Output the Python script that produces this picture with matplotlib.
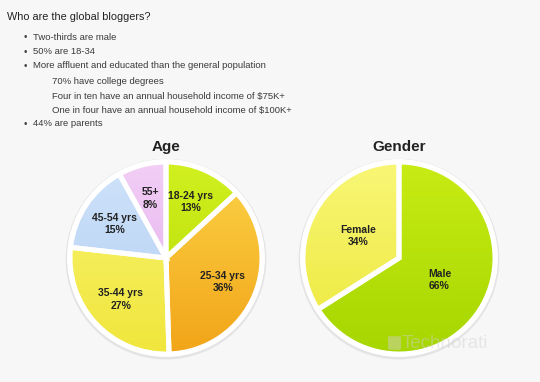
import matplotlib
matplotlib.use("Agg")
import matplotlib.pyplot as plt
import numpy as np
from matplotlib.colors import to_rgb
from matplotlib.patches import Circle, FancyBboxPatch

plt.rcParams['font.family'] = ['Liberation Sans', 'DejaVu Sans']

# ---- data ----
title = "Who are the global bloggers?"
bullets = ["Two-thirds are male", "50% are 18-34",
           "More affluent and educated than the general population",
           "44% are parents"]
sub_items = ["70% have college degrees",
             "Four in ten have an annual household income of $75K+",
             "One in four have an annual household income of $100K+"]

age_labels = ["18-24 yrs", "25-34 yrs", "35-44 yrs", "45-54 yrs", "55+"]
age_values = [13, 36, 27, 15, 8]
age_top = ["#d2f020", "#fcd448", "#f9f472", "#cfe2fa", "#f2cff6"]
age_bot = ["#b2da00", "#f2a418", "#f0e63c", "#b0cff2", "#e0a8ea"]

gender_labels = ["Male", "Female"]
gender_values = [66, 34]
gender_top = ["#c8ec14", "#f9f676"]
gender_bot = ["#a6d600", "#ebe83a"]

W, H = 540, 382
fig = plt.figure(figsize=(W / 100, H / 100), dpi=100)
fig.patch.set_facecolor("#f7f7f7")

def px(x, y):
    return x / W, 1 - y / H

# ---- text block ----
fig.text(*px(7, 17), title, fontsize=7.8, color="#222222", va="center", ha="left")
rows = [(25, 33, 37, bullets[0], True), (25, 33, 52, bullets[1], True),
        (25, 33, 66, bullets[2], True), (None, 52, 81, sub_items[0], False),
        (None, 52, 96, sub_items[1], False), (None, 52, 110, sub_items[2], False),
        (25, 33, 124, bullets[3], True)]
for bx, tx, y, txt, has_bullet in rows:
    if has_bullet:
        fig.text(*px(bx, y), "\u2022", fontsize=7, color="#444444", va="center", ha="center")
    fig.text(*px(tx, y), txt, fontsize=6.8, color="#3a3a3a", va="center", ha="left")


def draw_pie(cx, cy, r, values, labels, tops, bots, title_txt, title_y, ldist):
    ax = fig.add_axes([(cx - r * 1.1) / W, 1 - (cy + r * 1.1) / H,
                       2.2 * r / W, 2.2 * r / H])
    ax.set_xlim(-1.1, 1.1)
    ax.set_ylim(-1.1, 1.1)
    ax.set_aspect("equal")
    ax.axis("off")
    ax.add_patch(Circle((0.0, -0.012), 1.045, facecolor="#e4e4e4", edgecolor="none", zorder=0))
    ax.add_patch(Circle((0, 0), 1.03, facecolor="white", edgecolor="none", zorder=0.5))
    txts = [f"{l}\n{v}%" for l, v in zip(labels, values)]
    wedges, texts = ax.pie(values, labels=txts, startangle=90, counterclock=False,
                           labeldistance=ldist, radius=1.0,
                           wedgeprops=dict(edgecolor="white", linewidth=3.6),
                           textprops=dict(fontsize=7.5, fontweight="bold", color="#222222",
                                          linespacing=1.3))
    yy = np.linspace(1, 0, 200)[:, None]
    for w, t, b in zip(wedges, tops, bots):
        c1, c2 = np.array(to_rgb(t)), np.array(to_rgb(b))
        img = c1[None, None, :] * yy[..., None] + c2[None, None, :] * (1 - yy[..., None])
        img = np.repeat(img, 2, axis=1)
        im = ax.imshow(img, extent=[-1, 1, -1, 1], origin="upper", zorder=1.5,
                       interpolation="bilinear")
        im.set_clip_path(w)
        w.set_facecolor("none")
        w.set_zorder(2)
    for t in texts:
        t.set_zorder(3)
        t.set_ha("center")
        t.set_va("center")
    ax.set_xlim(-1.1, 1.1)
    ax.set_ylim(-1.1, 1.1)
    fig.text(*px(cx, title_y), title_txt, fontsize=11, fontweight="bold",
             color="#222222", ha="center", va="center")
    return ax

draw_pie(166, 258, 96, age_values, age_labels, age_top, age_bot, "Age", 147, 0.64)
draw_pie(399, 258, 96, gender_values, gender_labels, gender_top, gender_bot, "Gender", 147, 0.48)

# watermark
fig.patches.append(FancyBboxPatch(px(389, 349), 11 / W, 12 / H,
                                  boxstyle="round,pad=0.002", transform=fig.transFigure,
                                  facecolor="#d0d0d0", edgecolor="none", alpha=0.45))
fig.text(*px(402, 343), "Technorati", fontsize=13.5, color="#d0d0d0",
         ha="left", va="center", alpha=0.45)

fig.savefig("out.png", dpi=100, facecolor=fig.get_facecolor())
